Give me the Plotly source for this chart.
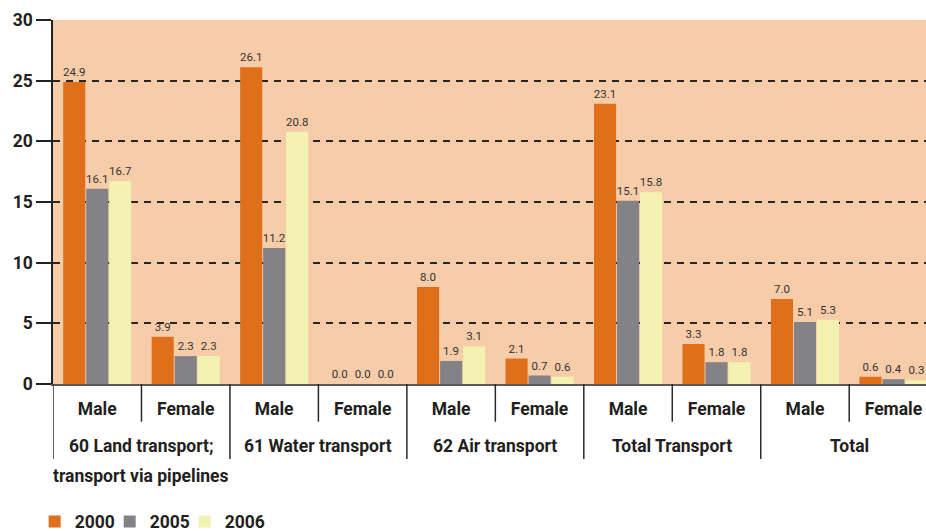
import plotly.graph_objects as go

# ---- data ----
groups = ["60 Land transport;", "61 Water transport", "62 Air transport", "Total Transport", "Total"]
group_second_line = ["transport via pipelines", "", "", "", ""]
sexes = ["Male", "Female"]
years = ["2000", "2005", "2006"]
values_2000 = [24.9, 3.9, 26.1, 0.0, 8.0, 2.1, 23.1, 3.3, 7.0, 0.6]
values_2005 = [16.1, 2.3, 11.2, 0.0, 1.9, 0.7, 15.1, 1.8, 5.1, 0.4]
values_2006 = [16.7, 2.3, 20.8, 0.0, 3.1, 0.6, 15.8, 1.8, 5.3, 0.3]
y_ticks = [0, 5, 10, 15, 20, 25, 30]

FONT = "Roboto, Lato, sans-serif"
TXT = "#231F20"
colors = {"2000": "#E06F1C", "2005": "#838387", "2006": "#F3F2B0"}

categories = [f"{g} {s}" for g in groups for s in sexes]
series = {"2000": values_2000, "2005": values_2005, "2006": values_2006}

fig = go.Figure()
for k, yr in enumerate(years):
    vals = series[yr]
    fig.add_trace(go.Bar(
        x=categories, y=vals, name=yr,
        marker=dict(color=colors[yr], line=dict(width=0)),
        text=[f"{v:.1f}" for v in vals],
        textposition="outside",
        textfont=dict(family=FONT, size=11.5, color="#333333"),
        constraintext="none",
        cliponaxis=False,
        hoverinfo="skip",
        legendwidth=(30 if k < len(years) - 1 else 50),
    ))

# dividers and group labels
shapes = []
annotations = []
for i, g in enumerate(groups):
    left = 2 * i - 0.5
    mid = 2 * i + 0.5
    shapes.append(dict(type="line", xref="x", yref="paper", x0=left, x1=left, y0=0, y1=-0.206,
                       line=dict(color="#2a2a2a", width=1.5)))
    shapes.append(dict(type="line", xref="x", yref="paper", x0=mid, x1=mid, y0=0, y1=-0.1036,
                       line=dict(color="#2a2a2a", width=1.5)))
    annotations.append(dict(x=mid, y=-0.1717, xref="x", yref="paper", text=g, showarrow=False,
                            xanchor="center", yanchor="middle",
                            font=dict(family=FONT, size=17.5, color=TXT, weight="bold")))
    if group_second_line[i]:
        annotations.append(dict(x=mid, y=-0.254, xref="x", yref="paper", text=group_second_line[i],
                                showarrow=False, xanchor="center", yanchor="middle",
                                font=dict(family=FONT, size=17.5, color=TXT, weight="bold")))

fig.update_layout(
    width=926, height=531,
    margin=dict(l=53, r=0, t=20, b=147),
    paper_bgcolor="white",
    plot_bgcolor="#F6CCA9",
    barmode="group",
    bargap=0.22,
    bargroupgap=0.04,
    showlegend=True,
    legend=dict(orientation="h", x=-0.021, xanchor="left", xref="paper",
                y=(531 - 521.5) / 531, yref="container", yanchor="middle",
                font=dict(family=FONT, size=17.5, color=TXT, weight="bold"),
                traceorder="normal", bgcolor="rgba(0,0,0,0)"),
    xaxis=dict(type="category", range=[-0.5, 9.368], tickvals=categories, ticktext=sexes * len(groups),
               ticks="", showline=True, linecolor="#5a5a5a", linewidth=2, showgrid=False,
               tickfont=dict(family=FONT, size=17.5, color=TXT, weight="bold"),
               ticklabelstandoff=8, automargin=False, fixedrange=True),
    yaxis=dict(range=[0, 30], tickvals=y_ticks, showgrid=True, gridcolor="#262626",
               griddash="7px,6px", gridwidth=1.5, ticks="outside", ticklen=15, tickwidth=1.5,
               tickcolor="#222222", showline=True, linecolor="#222222", linewidth=1.5,
               zeroline=False, tickfont=dict(family=FONT, size=17.5, color=TXT, weight="bold"),
               automargin=False, fixedrange=True),
    shapes=shapes,
    annotations=annotations,
)

fig.write_html("out.html", config={"displayModeBar": False},
               post_script="document.body.style.margin='0';document.body.style.overflow='hidden';")
